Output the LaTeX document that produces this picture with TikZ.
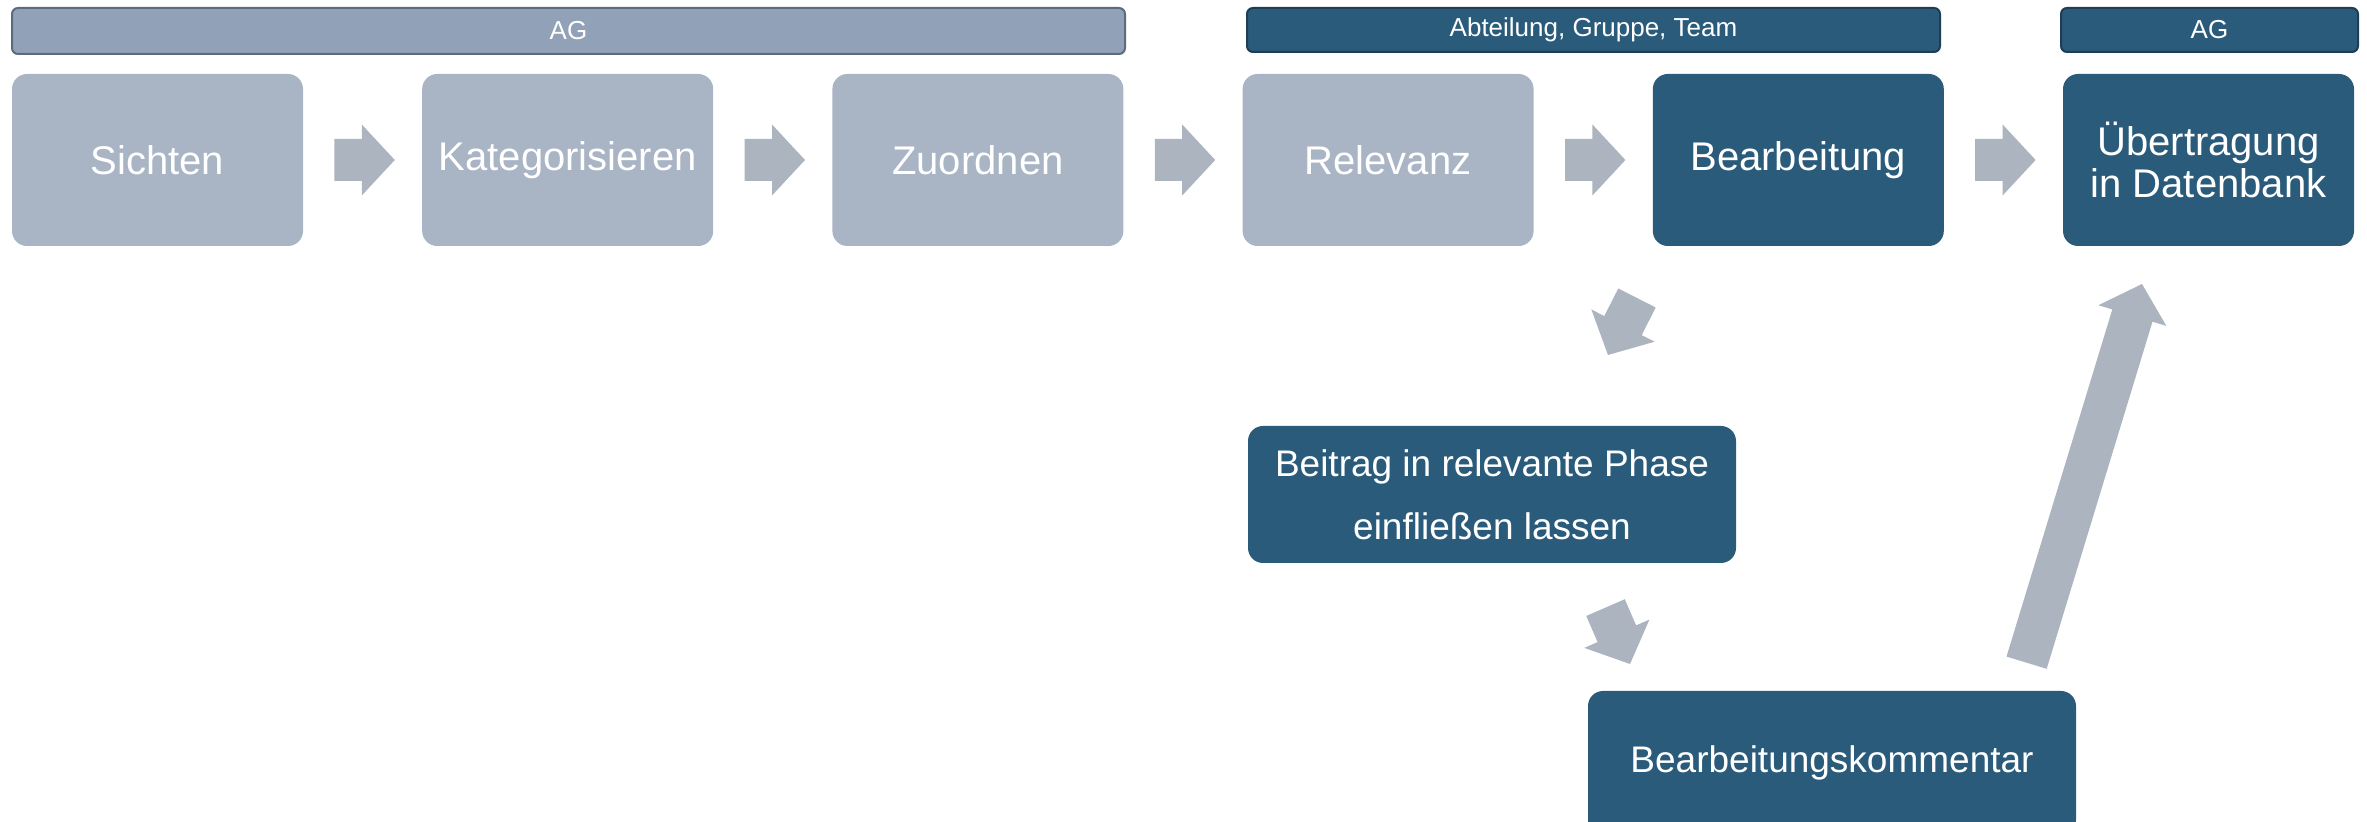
\documentclass[tikz,border=0pt]{standalone}
\usepackage{fontspec}
\setmainfont{Liberation Sans}
\usetikzlibrary{calc}
\definecolor{lightbox}{HTML}{A9B4C5}
\definecolor{darkbox}{HTML}{2A5B7B}
\definecolor{agbar}{HTML}{91A1B7}
\definecolor{agborder}{HTML}{5E6B7E}
\definecolor{darkborder}{HTML}{1E3E55}
\definecolor{arrowgray}{HTML}{ACB4BF}
\newcommand\blockarr[2]{%
  \coordinate (ba-m) at ($(#2)!16.5pt!(#1)$);
  \fill[arrowgray] ($(#1)!10.5pt!90:(#2)$) -- ($(ba-m)!10.5pt!-90:(#1)$) -- ($(ba-m)!17.75pt!-90:(#1)$) -- (#2)
     -- ($(ba-m)!17.75pt!90:(#1)$) -- ($(ba-m)!10.5pt!90:(#1)$) -- ($(#1)!10.5pt!-90:(#2)$) -- cycle;}
\begin{document}
\begin{tikzpicture}[x=0.5pt,y=-0.5pt,
  stepbox/.style={rounded corners=7.5pt, minimum width=145.5pt, minimum height=86pt, text=white,
    font=\fontsize{20pt}{21pt}\selectfont, align=center, inner sep=0pt},
  lightstep/.style={stepbox, fill=lightbox},
  darkstep/.style={stepbox, fill=darkbox},
  widebox/.style={stepbox, fill=darkbox, minimum width=244pt, font=\fontsize{18.5pt}{31.5pt}\selectfont},
  bar/.style={rounded corners=3pt, minimum height=22pt, text=white,
    font=\fontsize{13pt}{15pt}\selectfont, inner sep=0pt, line width=1pt},
  agbarstyle/.style={bar, fill=agbar, draw=agborder},
  darkbarstyle/.style={bar, fill=darkbox, draw=darkborder}
]
\useasboundingbox (0,0) rectangle (2367,822);
% top bars
\node[agbarstyle, minimum width=556.5pt, minimum height=23pt] (ag1) at (568.5,31) {AG};
\node[darkbarstyle, minimum width=346.5pt] (abt) at (1593.5,30) {Abteilung, Gruppe, Team};
\node[darkbarstyle, minimum width=148.5pt] (ag2) at (2209.5,30) {AG};
% step boxes
\node[lightstep] (sichten) at (157.5,160) {Sichten};
\node[lightstep] (kat) at (567.7,160) {Kategorisieren};
\node[lightstep] (zuord) at (977.9,160) {Zuordnen};
\node[lightstep] (relev) at (1388.1,160) {Relevanz};
\node[darkstep] (bearb) at (1798.3,160) {Bearbeitung};
\node[darkstep] (uebert) at (2208.5,160) {Übertragung\\in Datenbank};
\node[widebox, minimum height=68.5pt] (beitrag) at (1492,494.5) {Beitrag in relevante Phase\\einfließen lassen};
\node[widebox, minimum height=72pt] (komm) at (1832,763) {Bearbeitungskommentar};
% horizontal arrows
\coordinate (h1s) at ($(sichten.east)+(31,0)$); \coordinate (h1e) at ($(kat.west)+(-27,0)$);
\coordinate (h2s) at ($(kat.east)+(31,0)$); \coordinate (h2e) at ($(zuord.west)+(-27,0)$);
\coordinate (h3s) at ($(zuord.east)+(31,0)$); \coordinate (h3e) at ($(relev.west)+(-27,0)$);
\coordinate (h4s) at ($(relev.east)+(31,0)$); \coordinate (h4e) at ($(bearb.west)+(-27,0)$);
\coordinate (h5s) at ($(bearb.east)+(31,0)$); \coordinate (h5e) at ($(uebert.west)+(-27,0)$);
\blockarr{h1s}{h1e}
\blockarr{h2s}{h2e}
\blockarr{h3s}{h3e}
\blockarr{h4s}{h4e}
\blockarr{h5s}{h5e}
% diagonal arrows
\coordinate (d1s) at (1637,298); \coordinate (d1e) at (1608,355);
\coordinate (d2s) at (1605.5,607.6); \coordinate (d2e) at (1630,664);
\coordinate (d3s) at (2026.6,662.7); \coordinate (d3e) at (2142,284);
\blockarr{d1s}{d1e}
\blockarr{d2s}{d2e}
\blockarr{d3s}{d3e}
\end{tikzpicture}
\end{document}
